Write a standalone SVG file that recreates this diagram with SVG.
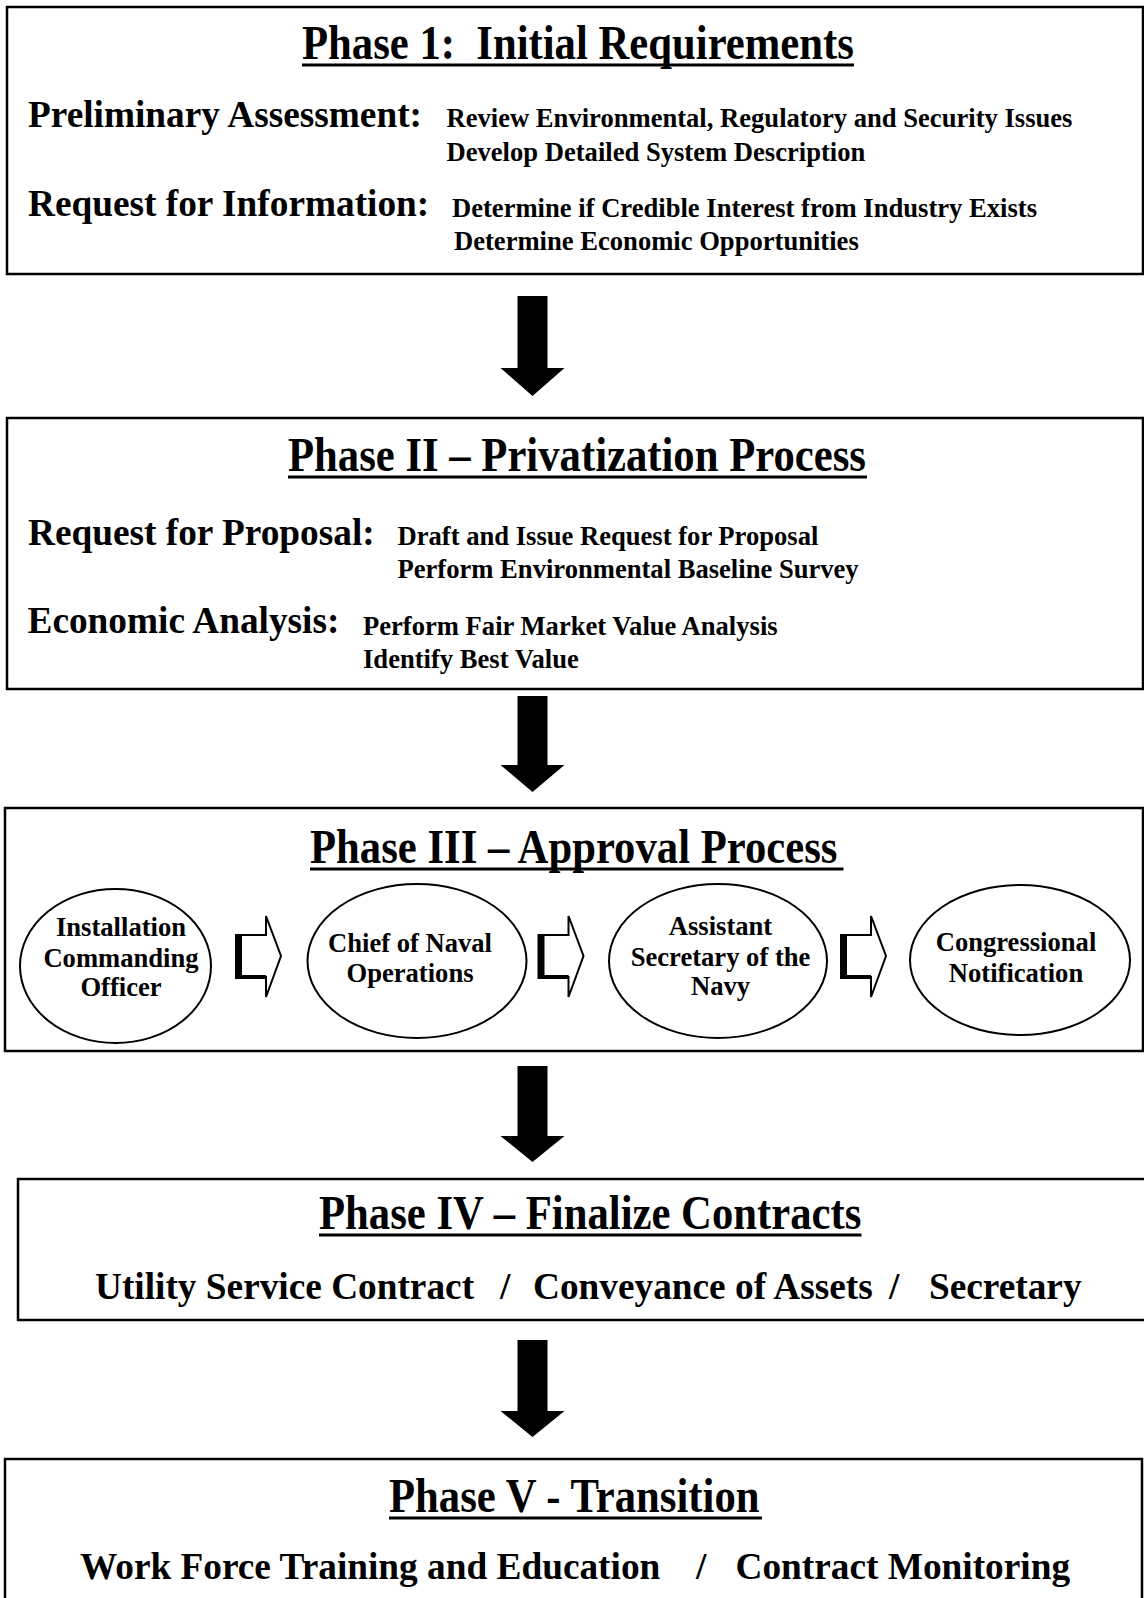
<svg xmlns="http://www.w3.org/2000/svg" width="1144" height="1598" viewBox="0 0 1144 1598">
<style>
.box{fill:#fff;stroke:#000;stroke-width:2.5}
.t{font-family:"Liberation Serif","Times New Roman",serif;font-weight:bold;fill:#000}
.title{font-size:42.7px}
.lab{font-size:37.3px}
.sub{font-size:26.6px}
.el{font-size:26.6px;text-anchor:middle}
.ul{fill:#000}
.ell{fill:#fff;stroke:#000;stroke-width:2}
.big{fill:#000}
.blk{fill:#fff;stroke:#000;stroke-width:2;stroke-linejoin:miter}
</style>
<rect width="1144" height="1598" fill="#fff"/>
<g id="phase1">
<rect class="box" x="7" y="7" width="1136" height="267"/>
<text class="t title" transform="translate(302,59) scale(1,1.12)">Phase 1:&#160; Initial Requirements</text>
<rect class="ul" x="302" y="63.5" width="552" height="3"/>
<text class="t lab" x="28" y="127">Preliminary Assessment:</text>
<text class="t sub" x="446.5" y="127">Review Environmental, Regulatory and Security Issues</text>
<text class="t sub" x="446.5" y="160.5">Develop Detailed System Description</text>
<text class="t lab" x="28" y="216">Request for Information:</text>
<text class="t sub" x="452" y="217">Determine if Credible Interest from Industry Exists</text>
<text class="t sub" x="454" y="250">Determine Economic Opportunities</text>
</g>
<g id="phase2">
<rect class="box" x="7" y="418" width="1136" height="271"/>
<text class="t title" transform="translate(288,471) scale(1,1.12)">Phase II – Privatization Process</text>
<rect class="ul" x="288" y="475.5" width="579" height="3"/>
<text class="t lab" x="28" y="545">Request for Proposal:</text>
<text class="t sub" x="397.5" y="545">Draft and Issue Request for Proposal</text>
<text class="t sub" x="397.5" y="578">Perform Environmental Baseline Survey</text>
<text class="t lab" x="27.5" y="633">Economic Analysis:</text>
<text class="t sub" x="363" y="635">Perform Fair Market Value Analysis</text>
<text class="t sub" x="363" y="668">Identify Best Value</text>
</g>
<g id="phase3">
<rect class="box" x="5" y="808" width="1138" height="243"/>
<text class="t title" transform="translate(310,863) scale(1,1.12)">Phase III – Approval Process</text>
<rect class="ul" x="310" y="867.5" width="533.5" height="3"/>
</g>
<g id="ico">
<ellipse class="ell" cx="115.5" cy="966" rx="95.5" ry="77"/>
<text class="t el" x="121" y="936">Installation</text>
<text class="t el" x="121" y="967">Commanding</text>
<text class="t el" x="121" y="996">Officer</text>
</g>
<g id="cno">
<ellipse class="ell" cx="417" cy="961" rx="109.5" ry="77"/>
<text class="t el" x="410" y="951.5">Chief of Naval</text>
<text class="t el" x="410" y="982">Operations</text>
</g>
<g id="asn">
<ellipse class="ell" cx="718" cy="961" rx="109" ry="77"/>
<text class="t el" x="720.5" y="935">Assistant</text>
<text class="t el" x="720.5" y="966">Secretary of the</text>
<text class="t el" x="720.5" y="995">Navy</text>
</g>
<g id="congress">
<ellipse class="ell" cx="1020" cy="960" rx="110" ry="75"/>
<text class="t el" x="1016" y="951">Congressional</text>
<text class="t el" x="1016" y="982">Notification</text>
</g>
<g id="phase4">
<rect class="box" x="18" y="1179" width="1132" height="141"/>
<text class="t title" transform="translate(319,1229) scale(1,1.12)">Phase IV – Finalize Contracts</text>
<rect class="ul" x="319" y="1233.5" width="542.5" height="3"/>
<text class="t lab" y="1298.5"><tspan x="95">Utility Service Contract</tspan><tspan x="500">/</tspan><tspan x="533">Conveyance of Assets</tspan><tspan x="889">/</tspan><tspan x="929">Secretary</tspan></text>
</g>
<g id="phase5">
<rect class="box" x="5" y="1459" width="1137" height="160"/>
<text class="t title" transform="translate(389,1512) scale(1,1.12)">Phase V - Transition</text>
<rect class="ul" x="389" y="1516.5" width="373" height="3"/>
<text class="t lab" y="1579"><tspan x="80">Work Force Training and Education</tspan><tspan x="696">/</tspan><tspan x="735.5">Contract Monitoring</tspan></text>
</g>
<g id="connectors">
<polygon class="big" points="517.5,296 547.5,296 547.5,368 564.5,368 532.5,396 500.5,368 517.5,368"/>
<polygon class="big" points="517.5,696 547.5,696 547.5,765 564.5,765 532.5,792 500.5,765 517.5,765"/>
<polygon class="big" points="517.5,1066 547.5,1066 547.5,1136 564.5,1136 532.5,1162 500.5,1136 517.5,1136"/>
<polygon class="big" points="517.5,1340 547.5,1340 547.5,1411 564.5,1411 532.5,1437 500.5,1411 517.5,1411"/>
<g id="blk1">
<polygon class="blk" points="237,935 266,935 266,916 281,956 266,997 266,977 237,977"/>
<rect x="235" y="934" width="7" height="45" fill="#000"/>
<line x1="237" y1="977" x2="266" y2="977" stroke="#000" stroke-width="4"/>
</g>
<g id="blk2">
<polygon class="blk" points="539.5,935 568.5,935 568.5,916 583.5,956 568.5,997 568.5,977 539.5,977"/>
<rect x="537.5" y="934" width="7" height="45" fill="#000"/>
<line x1="539.5" y1="977" x2="568.5" y2="977" stroke="#000" stroke-width="4"/>
</g>
<g id="blk3">
<polygon class="blk" points="842,935 871,935 871,916 886,956 871,997 871,977 842,977"/>
<rect x="840" y="934" width="7" height="45" fill="#000"/>
<line x1="842" y1="977" x2="871" y2="977" stroke="#000" stroke-width="4"/>
</g>
</g>
</svg>
